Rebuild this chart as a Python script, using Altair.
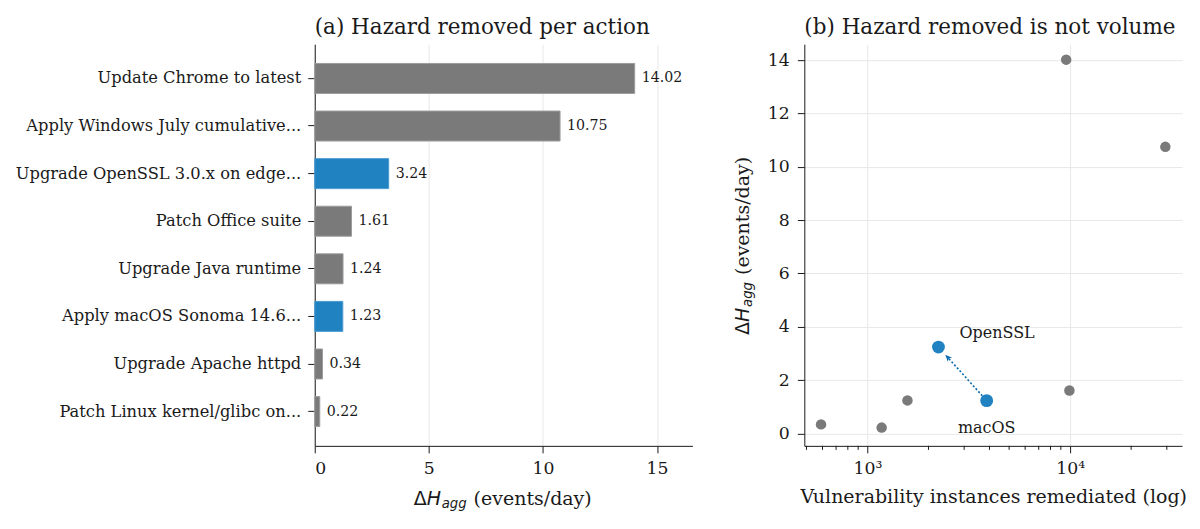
import math
import altair as alt
import pandas as pd

# ---------------- data ----------------
actions = [
    "Update Chrome to latest",
    "Apply Windows July cumulative...",
    "Upgrade OpenSSL 3.0.x on edge...",
    "Patch Office suite",
    "Upgrade Java runtime",
    "Apply macOS Sonoma 14.6...",
    "Upgrade Apache httpd",
    "Patch Linux kernel/glibc on...",
]
short_names = ["Chrome", "Windows", "OpenSSL", "Office", "Java", "macOS", "Apache", "Linux"]
delta_h = [14.02, 10.75, 3.24, 1.61, 1.24, 1.23, 0.34, 0.22]
instances = [9560, 29500, 2240, 9920, 1575, 3875, 590, 1175]
group = ["other", "other", "focus", "other", "other", "focus", "other", "other"]
x_ticks_a = [0, 5, 10, 15]
y_ticks_b = [0, 2, 4, 6, 8, 10, 12, 14]
x_major_b = [1000, 10000]
x_minor_b = [500, 600, 700, 800, 900, 2000, 3000, 4000, 5000, 6000, 7000, 8000, 9000, 20000, 30000]

# ---------------- style ----------------
SERIF = "DejaVu Serif"
SANS = "DejaVu Sans"
INK = "#1a1a1a"
GRID = "#e8e8e8"
BAR_GRAY, BAR_BLUE = "#7a7a7a", "#2182c2"
BAR_GRAY_EDGE, BAR_BLUE_EDGE = "#9c9c9c", "#4a9ad0"
PT_GRAY, PT_BLUE = "#888888", "#0a6bb0"
W, H = 378, 402
XA_MAX = 16.55
XB_DOM = [488, 35650]
YB_DOM = [-0.465, 14.6]
TICK_FS = 17.3

bars_df = pd.DataFrame({
    "action": actions,
    "dh": delta_h,
    "grp": group,
    "label": [f"{v:.2f}" for v in delta_h],
})
sc_df = pd.DataFrame({"name": short_names, "inst": instances, "dh": delta_h, "grp": group})
minor_df = pd.DataFrame({"m": x_minor_b})


def txt(t, x, y, **kw):
    return alt.Chart(pd.DataFrame({"t": [t]})).mark_text(**kw).encode(
        x=alt.value(x), y=alt.value(y), text="t:N"
    )


# ---------------- panel (a) ----------------
ya = alt.Y(
    "action:N", sort=actions,
    scale=alt.Scale(paddingInner=0.37, paddingOuter=0.405),
    axis=alt.Axis(title=None, labelFont=SERIF, labelFontSize=16.3, labelColor=INK,
                  labelPadding=7, tickSize=7, tickColor=INK, domainColor=INK,
                  labelLimit=400, grid=False),
)
xa = alt.X(
    "dh:Q", scale=alt.Scale(domain=[0, XA_MAX], nice=False, zero=True),
    axis=alt.Axis(title=None, values=x_ticks_a, grid=True, gridColor=GRID,
                  labelFont=SERIF, labelFontSize=TICK_FS, labelColor=INK,
                  labelPadding=7, tickSize=7, tickColor=INK, domainColor=INK),
)
bars = alt.Chart(bars_df).mark_bar(strokeWidth=1).encode(
    x=xa, y=ya,
    color=alt.Color("grp:N", scale=alt.Scale(domain=["other", "focus"], range=[BAR_GRAY, BAR_BLUE]), legend=None),
    stroke=alt.Stroke("grp:N", scale=alt.Scale(domain=["other", "focus"], range=[BAR_GRAY_EDGE, BAR_BLUE_EDGE]), legend=None),
)
vals = alt.Chart(bars_df).mark_text(align="left", baseline="middle", dx=7, font=SERIF,
                                    fontSize=14.2, color=INK).encode(
    x="dh:Q", y=alt.Y("action:N", sort=actions), text="label:N")

cx = W / 2
ty = 455
xa_title = [
    txt("Δ", cx - 90, ty, align="left", baseline="middle", font=SANS, fontSize=19, color=INK),
    txt("H", cx - 77, ty, align="left", baseline="middle", font=SANS, fontSize=19, fontStyle="italic", color=INK),
    txt("agg", cx - 62, ty + 5, align="left", baseline="middle", font=SANS, fontSize=13.3, fontStyle="italic", color=INK),
    txt("(events/day)", cx - 30, ty, align="left", baseline="middle", font=SERIF, fontSize=19, color=INK),
]

panel_a = alt.layer(bars, vals, *xa_title).properties(
    width=W, height=H,
    title=alt.TitleParams("(a) Hazard removed per action", anchor="start", frame="group",
                          font=SERIF, fontSize=21.5, fontWeight="normal", color=INK,
                          baseline="alphabetic", offset=-11),
)

# ---------------- panel (b) ----------------
xb_scale = alt.Scale(type="log", domain=XB_DOM, nice=False)
yb_scale = alt.Scale(domain=YB_DOM, nice=False, zero=False)
xb = alt.X(
    "inst:Q", scale=xb_scale,
    axis=alt.Axis(values=x_major_b,
                  labelExpr="datum.value == 1000 ? '10³' : '10⁴'",
                  title="Vulnerability instances remediated (log)", titleFont=SERIF,
                  titleFontSize=19, titleFontWeight="normal", titleColor=INK, titlePadding=10,
                  grid=True, gridColor=GRID, labelFont=SERIF, labelFontSize=TICK_FS,
                  labelColor=INK, labelPadding=7, tickSize=7, tickColor=INK, domainColor=INK),
)
yb = alt.Y(
    "dh:Q", scale=yb_scale,
    axis=alt.Axis(title=None, values=y_ticks_b, grid=True, gridColor=GRID,
                  labelFont=SERIF, labelFontSize=TICK_FS, labelColor=INK, labelPadding=8,
                  tickSize=7, tickColor=INK, domainColor=INK),
)
pts = alt.Chart(sc_df).mark_circle(opacity=1).encode(
    x=xb, y=yb,
    color=alt.Color("grp:N", scale=alt.Scale(domain=["other", "focus"], range=[PT_GRAY, PT_BLUE]), legend=None),
    size=alt.Size("grp:N", scale=alt.Scale(domain=["other", "focus"], range=[110, 165]), legend=None),
)
# minor log ticks below the x axis line
minor = alt.Chart(minor_df).mark_rule(color=INK, strokeWidth=1).encode(
    x=alt.X("m:Q", scale=xb_scale),
    y=alt.value(H), y2=alt.value(H + 4),
)

# arrow macOS -> OpenSSL
i0, i1 = short_names.index("macOS"), short_names.index("OpenSSL")
lx0, lx1 = math.log10(instances[i0]), math.log10(instances[i1])
y0, y1 = delta_h[i0], delta_h[i1]


def along(t):
    return 10 ** (lx0 + t * (lx1 - lx0)), y0 + t * (y1 - y0)


sx, sy = along(0.09)
ex, ey = along(0.80)
hx, hy = along(0.805)
px_dec = W / (math.log10(XB_DOM[1]) - math.log10(XB_DOM[0]))
px_unit = H / (YB_DOM[1] - YB_DOM[0])
ang = math.degrees(math.atan2((lx1 - lx0) * px_dec, (y1 - y0) * px_unit)) % 360

arrow_df = pd.DataFrame({"x0": [sx], "y0": [sy], "x1": [ex], "y1": [ey], "hx": [hx], "hy": [hy]})
arrow_line = alt.Chart(arrow_df).mark_rule(color=PT_BLUE, strokeWidth=1.6, strokeDash=[2, 2]).encode(
    x=alt.X("x0:Q", scale=xb_scale), y=alt.Y("y0:Q", scale=yb_scale), x2="x1:Q", y2="y1:Q")
arrow_head = alt.Chart(arrow_df).mark_point(
    shape="M0,-1L0.75,0.8L0,0.35L-0.75,0.8Z", filled=True, color=PT_BLUE, opacity=1,
    size=60, angle=ang, strokeWidth=0,
).encode(x=alt.X("hx:Q", scale=xb_scale), y=alt.Y("hy:Q", scale=yb_scale))

lab_ssl = alt.Chart(sc_df[sc_df["name"] == "OpenSSL"]).mark_text(
    align="left", baseline="middle", dx=21, dy=-14, font=SERIF, fontSize=16, color=INK
).encode(x=alt.X("inst:Q", scale=xb_scale), y=alt.Y("dh:Q", scale=yb_scale), text="name:N")
lab_mac = alt.Chart(sc_df[sc_df["name"] == "macOS"]).mark_text(
    align="center", baseline="middle", dy=27, font=SERIF, fontSize=16, color=INK
).encode(x=alt.X("inst:Q", scale=xb_scale), y=alt.Y("dh:Q", scale=yb_scale), text="name:N")

vx = -61
cy = H / 2
yb_title = [
    txt("Δ", vx, cy + 90, align="left", baseline="middle", angle=270, font=SANS, fontSize=19, color=INK),
    txt("H", vx, cy + 77, align="left", baseline="middle", angle=270, font=SANS, fontSize=19, fontStyle="italic", color=INK),
    txt("agg", vx + 5, cy + 62, align="left", baseline="middle", angle=270, font=SANS, fontSize=13.3, fontStyle="italic", color=INK),
    txt("(events/day)", vx, cy + 30, align="left", baseline="middle", angle=270, font=SERIF, fontSize=19, color=INK),
]

panel_b = alt.layer(pts, minor, arrow_line, arrow_head, lab_ssl, lab_mac, *yb_title).properties(
    width=W, height=H,
    title=alt.TitleParams("(b) Hazard removed is not volume", anchor="start", frame="group",
                          font=SERIF, fontSize=21.5, fontWeight="normal", color=INK,
                          baseline="alphabetic", offset=-11),
)

chart = alt.hconcat(panel_a, panel_b, spacing=112, bounds="flush").configure_view(
    stroke=None
).properties(padding={"left": 7, "top": 8, "right": 5, "bottom": 5})

chart.save("out.html", embed_options={"renderer": "svg", "actions": False})
